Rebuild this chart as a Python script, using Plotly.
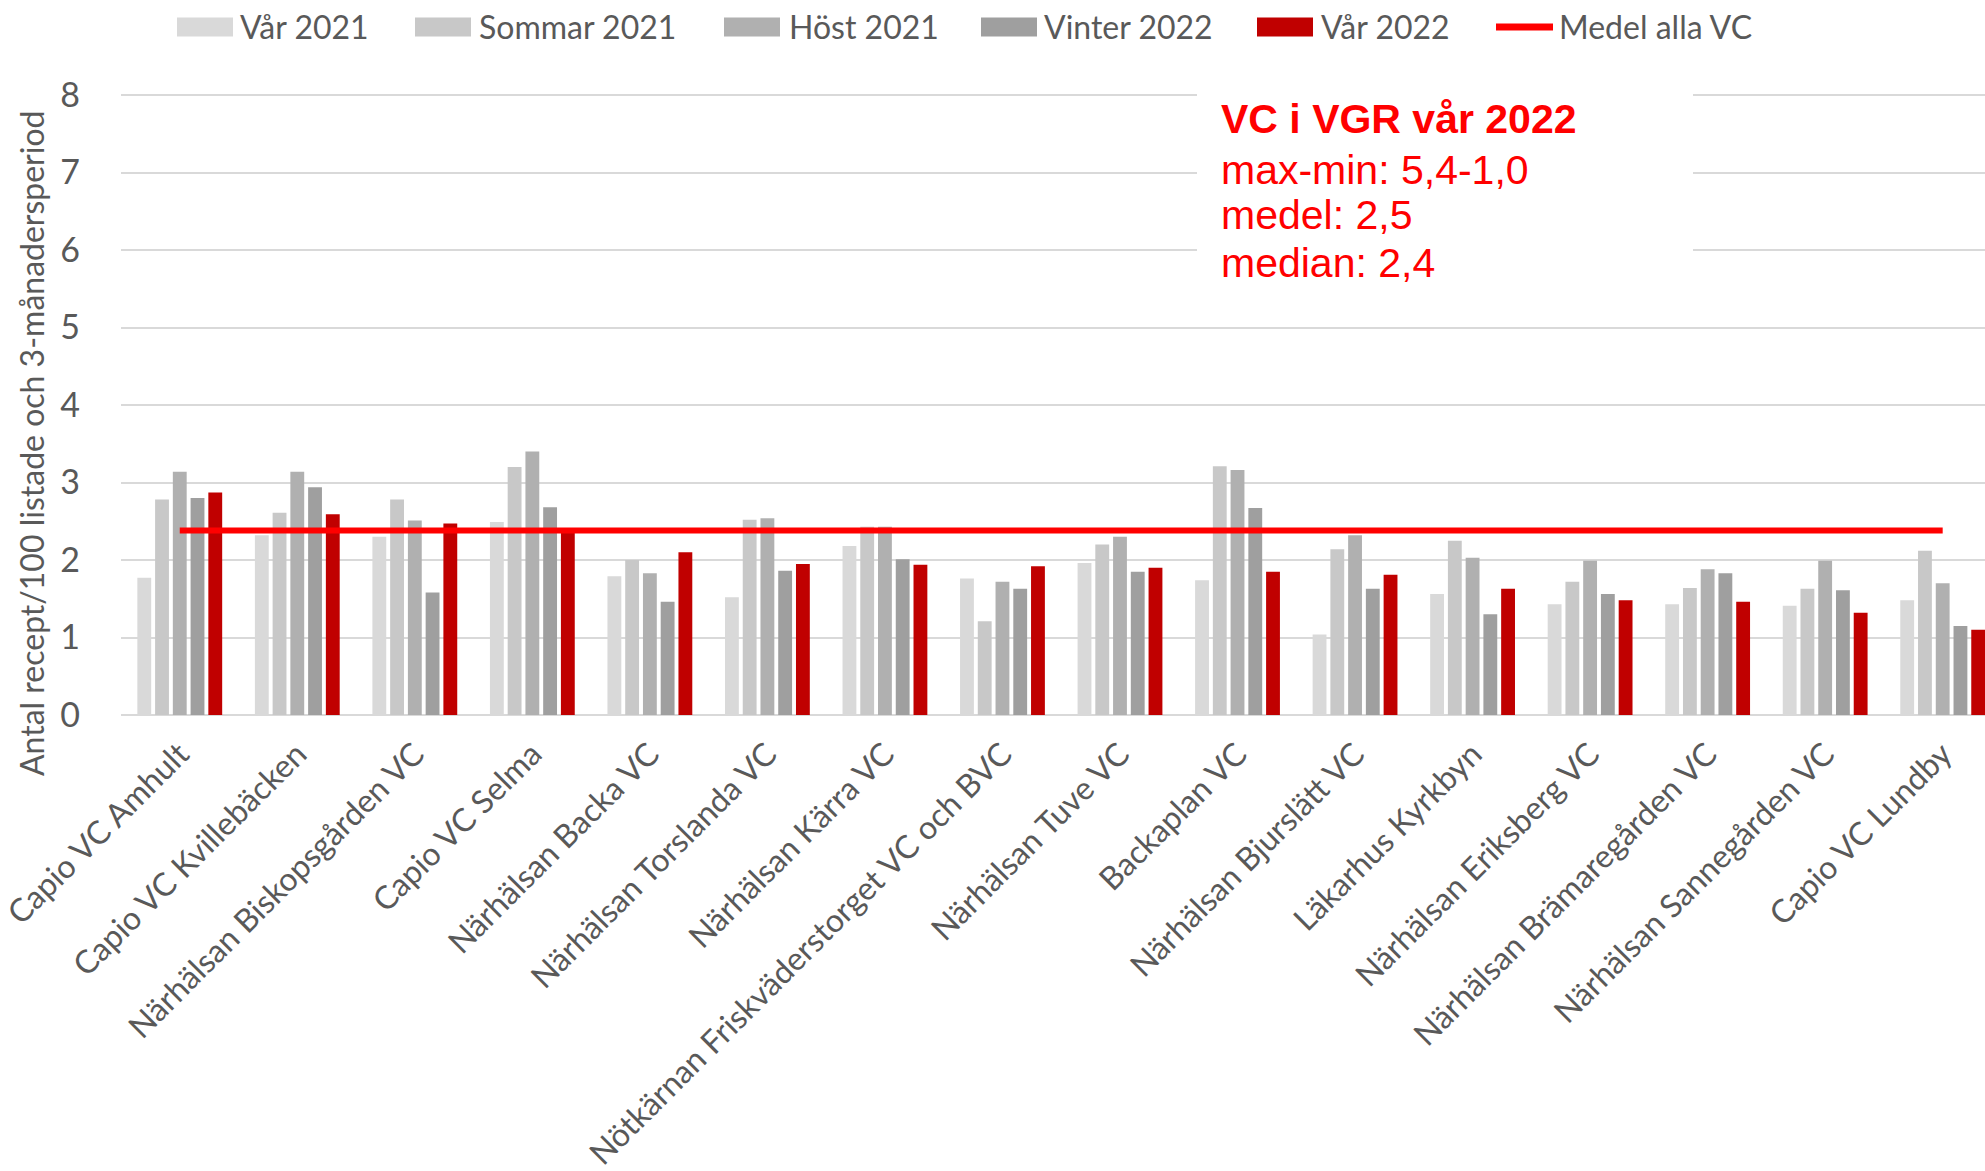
import plotly.graph_objects as go

categories = [
    "Capio VC Amhult", "Capio VC Kvillebäcken", "Närhälsan Biskopsgården VC", "Capio VC Selma",
    "Närhälsan Backa VC", "Närhälsan Torslanda VC", "Närhälsan Kärra VC",
    "Nötkärnan Friskväderstorget VC och BVC", "Närhälsan Tuve VC", "Backaplan VC",
    "Närhälsan Bjurslätt VC", "Läkarhus Kyrkbyn", "Närhälsan Eriksberg VC",
    "Närhälsan Brämaregården VC", "Närhälsan Sannegården VC", "Capio VC Lundby",
]

var_2021 = [1.77, 2.32, 2.30, 2.49, 1.79, 1.52, 2.18, 1.76, 1.96, 1.74, 1.04, 1.56, 1.43, 1.43, 1.41, 1.48]
sommar_2021 = [2.78, 2.61, 2.78, 3.20, 2.00, 2.52, 2.43, 1.21, 2.20, 3.21, 2.14, 2.25, 1.72, 1.64, 1.63, 2.12]
host_2021 = [3.14, 3.14, 2.51, 3.40, 1.83, 2.54, 2.43, 1.72, 2.30, 3.16, 2.32, 2.03, 1.99, 1.88, 1.99, 1.70]
vinter_2022 = [2.80, 2.94, 1.58, 2.68, 1.46, 1.86, 2.01, 1.63, 1.85, 2.67, 1.63, 1.30, 1.56, 1.83, 1.61, 1.15]
var_2022 = [2.87, 2.59, 2.47, 2.37, 2.10, 1.95, 1.94, 1.92, 1.90, 1.85, 1.81, 1.63, 1.48, 1.46, 1.32, 1.10]
medel_alla_vc = [2.38] * 16

series_names = ["Vår 2021", "Sommar 2021", "Höst 2021", "Vinter 2022", "Vår 2022"]
series_values = [var_2021, sommar_2021, host_2021, vinter_2022, var_2022]
series_colors = ["#D9D9D9", "#C8C8C8", "#B0B0B0", "#9F9F9F", "#C00000"]
line_name = "Medel alla VC"
line_color = "#FF0000"

y_ticks = [0, 1, 2, 3, 4, 5, 6, 7, 8]

info_lines = ["<b>VC i VGR vår 2022</b>", "max-min: 5,4-1,0", "medel: 2,5", "median: 2,4"]
info_y = [7.69, 7.03, 6.45, 5.83]

FONT = "Lato, Calibri, Carlito, sans-serif"
GRAY = "#595959"

W, H = 1985, 1171
L, R, T, B = 121, 0, 93, 456
PW = W - L - R
PH = H - T - B
Y0 = T + PH  # pixel of y=0


def px_x(p):
    return (p - L) / PW


def px_y(p):
    return (Y0 - p) / PH


fig = go.Figure()
for name, vals, col in zip(series_names, series_values, series_colors):
    fig.add_trace(go.Bar(x=categories, y=vals, name=name, marker=dict(color=col, line=dict(width=0))))

fig.add_trace(go.Scatter(x=categories, y=medel_alla_vc, name=line_name, mode="lines",
                         line=dict(color=line_color, width=6)))

fig.update_layout(
    width=W, height=H,
    margin=dict(l=L, r=R, t=T, b=B, pad=0, autoexpand=False),
    paper_bgcolor="white", plot_bgcolor="white",
    barmode="group", bargap=0.245, bargroupgap=0.22,
    font=dict(family=FONT, color=GRAY),
    showlegend=False,
    xaxis=dict(range=[-0.5, 15.36], showgrid=False, showline=False, zeroline=False,
               tickangle=-45, tickfont=dict(size=32, color=GRAY, family=FONT),
               ticks="", ticklabelstandoff=13, fixedrange=True, automargin=False),
    yaxis=dict(range=[0, 8.026], tickvals=y_ticks, ticktext=[str(v) for v in y_ticks],
               showgrid=True, gridcolor="#D9D9D9", gridwidth=2,
               zeroline=True, zerolinecolor="#D9D9D9", zerolinewidth=2,
               showline=False, ticks="", tickfont=dict(size=34, color=GRAY, family=FONT),
               ticklabelstandoff=40, automargin=False),
)

# legend drawn as swatches + text labels
legend_cy = 27
swatch_x = [177, 415, 724, 981, 1257]
text_x = [238, 477, 787, 1042, 1319]
for name, col, sx, tx in zip(series_names, series_colors, swatch_x, text_x):
    fig.add_shape(type="rect", xref="paper", yref="paper",
                  x0=px_x(sx), x1=px_x(sx + 56), y0=px_y(legend_cy + 9.5), y1=px_y(legend_cy - 9.5),
                  fillcolor=col, line=dict(width=0), layer="above")
    fig.add_annotation(text=name, xref="paper", yref="paper", x=px_x(tx), y=px_y(legend_cy),
                       xanchor="left", yanchor="middle", showarrow=False,
                       font=dict(size=32, color=GRAY, family=FONT))
fig.add_shape(type="line", xref="paper", yref="paper",
              x0=px_x(1496), x1=px_x(1553), y0=px_y(legend_cy), y1=px_y(legend_cy),
              line=dict(color=line_color, width=7), layer="above")
fig.add_annotation(text=line_name, xref="paper", yref="paper", x=px_x(1557), y=px_y(legend_cy),
                   xanchor="left", yanchor="middle", showarrow=False,
                   font=dict(size=32, color=GRAY, family=FONT))

fig.add_annotation(text="Antal recept/100 listade och 3-månadersperiod", textangle=-90,
                   xref="paper", yref="paper", x=px_x(32), y=px_y(443),
                   xanchor="center", yanchor="middle", showarrow=False,
                   font=dict(size=32, color=GRAY, family=FONT))

# white info box
fig.add_shape(type="rect", xref="paper", yref="paper",
              x0=px_x(1197), x1=px_x(1693), y0=px_y(300), y1=px_y(80),
              fillcolor="white", line=dict(width=0), layer="above")

for txt, yy in zip(info_lines, info_y):
    fig.add_annotation(text=txt, xref="x", yref="y", x=8.84, y=yy, xanchor="left", yanchor="middle",
                       showarrow=False, align="left",
                       font=dict(size=41, color="#FF0000", family="Liberation Sans, Arial, sans-serif"))

fig.write_html("out.html", config={"displayModeBar": False},
               post_script="document.body.style.margin='0';document.body.style.overflow='hidden';")
